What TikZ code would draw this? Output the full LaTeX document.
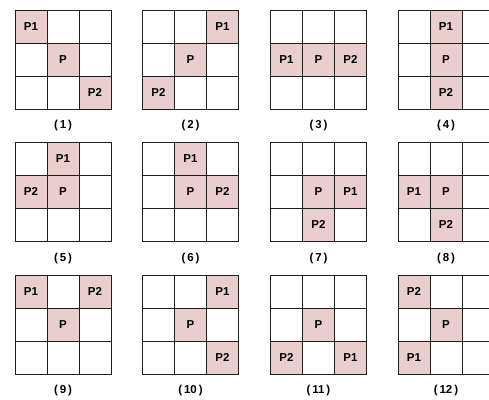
\documentclass[tikz,border=0pt]{standalone}
\usepackage{fontspec}
\setmainfont{Liberation Sans}
\definecolor{pinkcell}{RGB}{234,205,205}
\definecolor{gridline}{RGB}{30,30,30}
\tikzset{
  cellbase/.style={draw=gridline, line width=0.9pt, minimum width=32pt, minimum height=33pt, inner sep=0pt, font=\bfseries\fontsize{11.5}{13}\selectfont},
  ecell/.style={cellbase, fill=white},
  pcell/.style={cellbase, fill=pinkcell},
  lbl/.style={font=\bfseries\fontsize{11.5}{13}\selectfont, inner sep=0pt}
}
\newcommand\mk[4]{\expandafter\def\csname mk-#1-#2-#3\endcsname{#4}}
\newcommand\panel[4]{%
  \foreach \r in {0,1,2}{\foreach \c in {0,1,2}{%
    \ifcsname mk-#1-\r-\c\endcsname
      \node[pcell] (g#1-\r-\c) at ({#2+16+32*\c},{#3+16.5+33*\r}) {\csname mk-#1-\r-\c\endcsname};
    \else
      \node[ecell] (g#1-\r-\c) at ({#2+16+32*\c},{#3+16.5+33*\r}) {};
    \fi}}
  \node[lbl] (l#1) at ({#2+48},{#3+116}) {(\,#4\,)};
}
% marks: panel, row, col, text
\mk{1}{0}{0}{P1}\mk{1}{1}{1}{P}\mk{1}{2}{2}{P2}
\mk{2}{0}{2}{P1}\mk{2}{1}{1}{P}\mk{2}{2}{0}{P2}
\mk{3}{1}{0}{P1}\mk{3}{1}{1}{P}\mk{3}{1}{2}{P2}
\mk{4}{0}{1}{P1}\mk{4}{1}{1}{P}\mk{4}{2}{1}{P2}
\mk{5}{0}{1}{P1}\mk{5}{1}{0}{P2}\mk{5}{1}{1}{P}
\mk{6}{0}{1}{P1}\mk{6}{1}{1}{P}\mk{6}{1}{2}{P2}
\mk{7}{1}{1}{P}\mk{7}{1}{2}{P1}\mk{7}{2}{1}{P2}
\mk{8}{1}{0}{P1}\mk{8}{1}{1}{P}\mk{8}{2}{1}{P2}
\mk{9}{0}{0}{P1}\mk{9}{0}{2}{P2}\mk{9}{1}{1}{P}
\mk{10}{0}{2}{P1}\mk{10}{1}{1}{P}\mk{10}{2}{2}{P2}
\mk{11}{1}{1}{P}\mk{11}{2}{0}{P2}\mk{11}{2}{2}{P1}
\mk{12}{0}{0}{P2}\mk{12}{1}{1}{P}\mk{12}{2}{0}{P1}
\begin{document}
\begin{tikzpicture}[x=1pt,y=-1pt]
\useasboundingbox (0,0) rectangle (489,399);
\clip (0,0) rectangle (489,399);
\panel{1}{15}{10}{1}
\panel{2}{142.5}{10}{2}
\panel{3}{270.5}{10}{3}
\panel{4}{398}{10}{4}
\panel{5}{15}{142.3}{5}
\panel{6}{142.5}{142.3}{6}
\panel{7}{270.5}{142.3}{7}
\panel{8}{398}{142.3}{8}
\panel{9}{15}{275}{9}
\panel{10}{142.5}{275}{10}
\panel{11}{270.5}{275}{11}
\panel{12}{398}{275}{12}
\end{tikzpicture}
\end{document}
